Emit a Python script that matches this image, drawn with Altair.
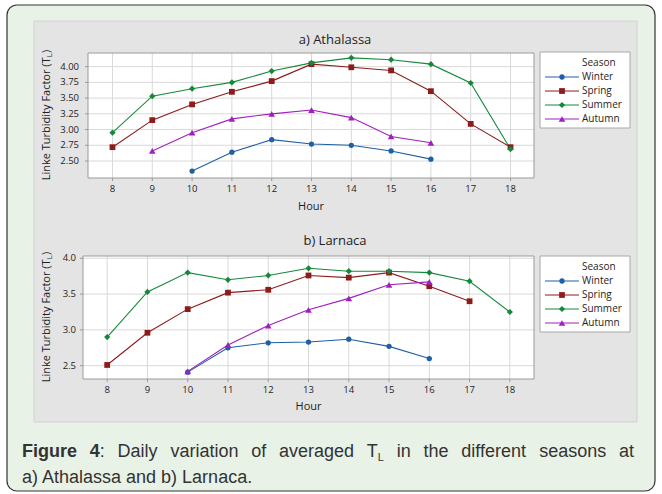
import altair as alt
import pandas as pd

# ---------------------------------------------------------------- data
seasons = ["Winter", "Spring", "Summer", "Autumn"]
season_colors = ["#1f5fa6", "#8e1b1b", "#15893a", "#a020bd"]
season_shapes = ["circle", "square", "diamond", "triangle-up"]
season_sizes = [28, 44, 68, 78]

hour_ticks = [8, 9, 10, 11, 12, 13, 14, 15, 16, 17, 18]

# a) Athalassa
ath_winter_hours = [10, 11, 12, 13, 14, 15, 16]
ath_winter = [2.34, 2.64, 2.84, 2.77, 2.75, 2.66, 2.53]
ath_spring_hours = [8, 9, 10, 11, 12, 13, 14, 15, 16, 17, 18]
ath_spring = [2.72, 3.15, 3.40, 3.60, 3.77, 4.04, 3.99, 3.94, 3.61, 3.09, 2.72]
ath_summer_hours = [8, 9, 10, 11, 12, 13, 14, 15, 16, 17, 18]
ath_summer = [2.95, 3.53, 3.65, 3.75, 3.93, 4.06, 4.14, 4.11, 4.04, 3.74, 2.69]
ath_autumn_hours = [9, 10, 11, 12, 13, 14, 15, 16]
ath_autumn = [2.66, 2.95, 3.17, 3.25, 3.31, 3.19, 2.89, 2.79]
ath_y_ticks = [2.50, 2.75, 3.00, 3.25, 3.50, 3.75, 4.00]
ath_y_labels = ["2.50", "2.75", "3.00", "3.25", "3.50", "3.75", "4.00"]

# b) Larnaca
lar_winter_hours = [10, 11, 12, 13, 14, 15, 16]
lar_winter = [2.41, 2.75, 2.82, 2.83, 2.87, 2.77, 2.60]
lar_spring_hours = [8, 9, 10, 11, 12, 13, 14, 15, 16, 17]
lar_spring = [2.51, 2.96, 3.29, 3.52, 3.56, 3.76, 3.73, 3.80, 3.61, 3.40]
lar_summer_hours = [8, 9, 10, 11, 12, 13, 14, 15, 16, 17, 18]
lar_summer = [2.90, 3.53, 3.80, 3.70, 3.76, 3.86, 3.82, 3.82, 3.80, 3.68, 3.25]
lar_autumn_hours = [10, 11, 12, 13, 14, 15, 16]
lar_autumn = [2.42, 2.79, 3.06, 3.28, 3.44, 3.63, 3.67]
lar_y_ticks = [2.5, 3.0, 3.5, 4.0]
lar_y_labels = ["2.5", "3.0", "3.5", "4.0"]

y_title = "Linke Turbidity Factor (T"
y_title_sub = "L"

caption_line2 = "a) Athalassa and b) Larnaca."

# ---------------------------------------------------------------- styles
FONT = "Open Sans"
CAP_FONT = "Liberation Sans"
TEXT = "#1e1e1e"
GRID = "#d9d9d9"
FRAME = "#9a9a9a"

one = pd.DataFrame({"k": [0]})


def box(x, x2, y, y2, **kw):
    return alt.Chart(one).mark_rect(**kw).encode(
        x=alt.value(x), x2=alt.value(x2), y=alt.value(y), y2=alt.value(y2)
    )


def label(text, x, y, **kw):
    return alt.Chart(pd.DataFrame({"t": [text]})).mark_text(**kw).encode(
        x=alt.value(x), y=alt.value(y), text="t:N"
    )


def season_frame(hours, values):
    rows = []
    for s, hrs, vals in zip(seasons, hours, values):
        rows += [{"Season": s, "Hour": h, "TL": v} for h, v in zip(hrs, vals)]
    return pd.DataFrame(rows)


def panel(df, title, x_dom, x_rng, y_dom, y_rng, y_ticks, y_labels,
          ylab_x, title_y, xlab_y, hour_y, leg_top, leg_rows):
    left, right = x_rng
    bottom, top = y_rng
    xs = alt.Scale(domain=x_dom, range=x_rng, nice=False, zero=False)
    ys = alt.Scale(domain=y_dom, range=y_rng, nice=False, zero=False)
    X = alt.X("Hour:Q", scale=xs, axis=None)
    Y = alt.Y("TL:Q", scale=ys, axis=None)
    col = alt.Color("Season:N", scale=alt.Scale(domain=seasons, range=season_colors), legend=None)
    shp = alt.Shape("Season:N", scale=alt.Scale(domain=seasons, range=season_shapes), legend=None)
    siz = alt.Size("Season:O", scale=alt.Scale(domain=seasons, range=season_sizes), legend=None)

    hours_df = pd.DataFrame({"Hour": hour_ticks, "lab": [str(h) for h in hour_ticks]})
    yt_df = pd.DataFrame({"TL": y_ticks, "lab": y_labels})
    leg_df = pd.DataFrame({"Season": seasons})
    LY = alt.Y("Season:N", scale=alt.Scale(type="point", domain=seasons, range=leg_rows, padding=0), axis=None)

    cy = (top + bottom) / 2
    # axis title with a subscript, read bottom-to-top
    main_len = 123.5
    sub_len = 3.9
    y_end = cy - (main_len + sub_len + 3.3) / 2 + sub_len + 3.3

    layers = [
        box(left, right, top, bottom, fill="white"),
        alt.Chart(hours_df).mark_rule(color=GRID, strokeWidth=1).encode(
            x=X, y=alt.value(top), y2=alt.value(bottom)),
        alt.Chart(yt_df).mark_rule(color=GRID, strokeWidth=1).encode(
            y=Y, x=alt.value(left), x2=alt.value(right)),
        box(left, right, top, bottom, fillOpacity=0, stroke=FRAME, strokeWidth=1),
        alt.Chart(hours_df).mark_rule(color=FRAME).encode(
            x=X, y=alt.value(bottom), y2=alt.value(bottom + 3)),
        alt.Chart(yt_df).mark_rule(color=FRAME).encode(
            y=Y, x=alt.value(left - 3), x2=alt.value(left)),
        alt.Chart(hours_df).mark_text(font=FONT, fontSize=9.5, color=TEXT, baseline="middle").encode(
            x=X, y=alt.value(xlab_y), text="lab:N"),
        alt.Chart(yt_df).mark_text(font=FONT, fontSize=9.5, color=TEXT, align="right", baseline="middle").encode(
            y=Y, x=alt.value(ylab_x), text="lab:N"),
        alt.Chart(df).mark_line(strokeWidth=1.1).encode(x=X, y=Y, color=col),
        alt.Chart(df).mark_point(filled=True, opacity=1).encode(x=X, y=Y, color=col, shape=shp, size=siz),
        label(title, 335, title_y, font=FONT, fontSize=13, color=TEXT, baseline="middle"),
        label("Hour", (left + right) / 2, hour_y, font=FONT, fontSize=11, color=TEXT, baseline="middle"),
        label(y_title, 47, y_end, font=FONT, fontSize=11, color=TEXT, angle=270,
              align="right", baseline="middle"),
        label(y_title_sub, 47, y_end, font=FONT, fontSize=7.5, color=TEXT, angle=270,
              align="left", baseline="middle", dy=3),
        label(")", 47, y_end - sub_len - 0.5, font=FONT, fontSize=11, color=TEXT, angle=270,
              align="left", baseline="middle"),
        # legend
        box(540, 630, leg_top, leg_top + 76, fill="white", stroke="#a8a8a8", strokeWidth=1),
        label("Season", 582, leg_rows[0] - 14, font=FONT, fontSize=10, color=TEXT,
              align="left", baseline="middle"),
        alt.Chart(leg_df).mark_rule(strokeWidth=1.1).encode(
            y=LY, x=alt.value(545), x2=alt.value(579), color=col),
        alt.Chart(leg_df).mark_point(filled=True, opacity=1).encode(
            y=LY, x=alt.value(562), color=col, shape=shp, size=siz),
        alt.Chart(leg_df).mark_text(font=FONT, fontSize=10, color=TEXT, align="left", baseline="middle").encode(
            y=LY, x=alt.value(582), text="Season:N"),
    ]
    return layers


ath_df = season_frame(
    [ath_winter_hours, ath_spring_hours, ath_summer_hours, ath_autumn_hours],
    [ath_winter, ath_spring, ath_summer, ath_autumn],
)
lar_df = season_frame(
    [lar_winter_hours, lar_spring_hours, lar_summer_hours, lar_autumn_hours],
    [lar_winter, lar_spring, lar_summer, lar_autumn],
)

panel_a = panel(ath_df, "a) Athalassa", [7.385, 18.59], [88, 534], [2.23, 4.217], [178, 53],
                ath_y_ticks, ath_y_labels, 79, 40, 189, 207, 52, [77, 119])
panel_b = panel(lar_df, "b) Larnaca", [7.40, 18.6], [83, 534], [2.314, 4.032], [379, 256],
                lar_y_ticks, lar_y_labels, 76, 241, 390, 407, 256, [281, 323])

# ---------------------------------------------------------------- caption (justified first line)
REG = {"a": 556, "c": 500, "d": 556, "e": 556, "f": 278, "g": 556, "h": 556, "i": 222,
       "l": 222, "n": 556, "o": 556, "r": 333, "s": 500, "t": 278, "v": 500, "y": 500,
       "D": 722, "T": 611, "L": 556, ":": 278}
BOLD = {"F": 611, "i": 278, "g": 611, "u": 611, "r": 389, "e": 556, "4": 556}
CAP_SIZE = 18
SUB_SIZE = 11

words = [
    [("Figure", "b")], [("4", "b"), (":", "r")], [("Daily", "r")], [("variation", "r")],
    [("of", "r")], [("averaged", "r")], [("T", "r"), ("L", "s")], [("in", "r")],
    [("the", "r")], [("different", "r")], [("seasons", "r")], [("at", "r")],
]


def seg_width(text, kind):
    if kind == "b":
        return sum(BOLD[c] for c in text) * CAP_SIZE / 1000
    if kind == "s":
        return sum(REG[c] for c in text) * SUB_SIZE / 1000
    return sum(REG[c] for c in text) * CAP_SIZE / 1000


cap_left, cap_right = 22, 634
word_w = [sum(seg_width(t, k) for t, k in w) for w in words]
gap = (cap_right - cap_left - sum(word_w)) / (len(words) - 1)
segs = {"b": [], "r": [], "s": []}
pos = cap_left
for w, ww in zip(words, word_w):
    p = pos
    for t, k in w:
        segs[k].append({"t": t, "px": p})
        p += seg_width(t, k)
    pos += ww + gap

caption_layers = []
for kind, weight, size, dy in [("b", "bold", CAP_SIZE, 0), ("r", "normal", CAP_SIZE, 0), ("s", "normal", SUB_SIZE, 4)]:
    caption_layers.append(
        alt.Chart(pd.DataFrame(segs[kind])).mark_text(
            font=CAP_FONT, fontSize=size, fontWeight=weight, color="#333333",
            align="left", baseline="alphabetic", dy=dy,
        ).encode(x=alt.X("px:Q", scale=None), y=alt.value(457), text="t:N")
    )
caption_layers.append(
    label(caption_line2, cap_left, 483, font=CAP_FONT, fontSize=CAP_SIZE, color="#333333",
          align="left", baseline="alphabetic")
)

background = [
    box(7, 655, 5, 491, fill="#e9f2e7", stroke="#333333", strokeWidth=1.2, cornerRadius=10),
    box(34, 637, 21, 422, fill="#e4e4e4", stroke="#d2d2d2", strokeWidth=1),
]

chart = alt.layer(*background, *panel_a, *panel_b, *caption_layers).resolve_scale(
    x="independent", y="independent", color="independent", shape="independent", size="independent"
).properties(
    width=662, height=494, padding=0, autosize=alt.AutoSizeParams(type="none"), background="white"
).configure_view(stroke=None)

chart.save("out.html", embed_options={"renderer": "svg", "actions": False})
